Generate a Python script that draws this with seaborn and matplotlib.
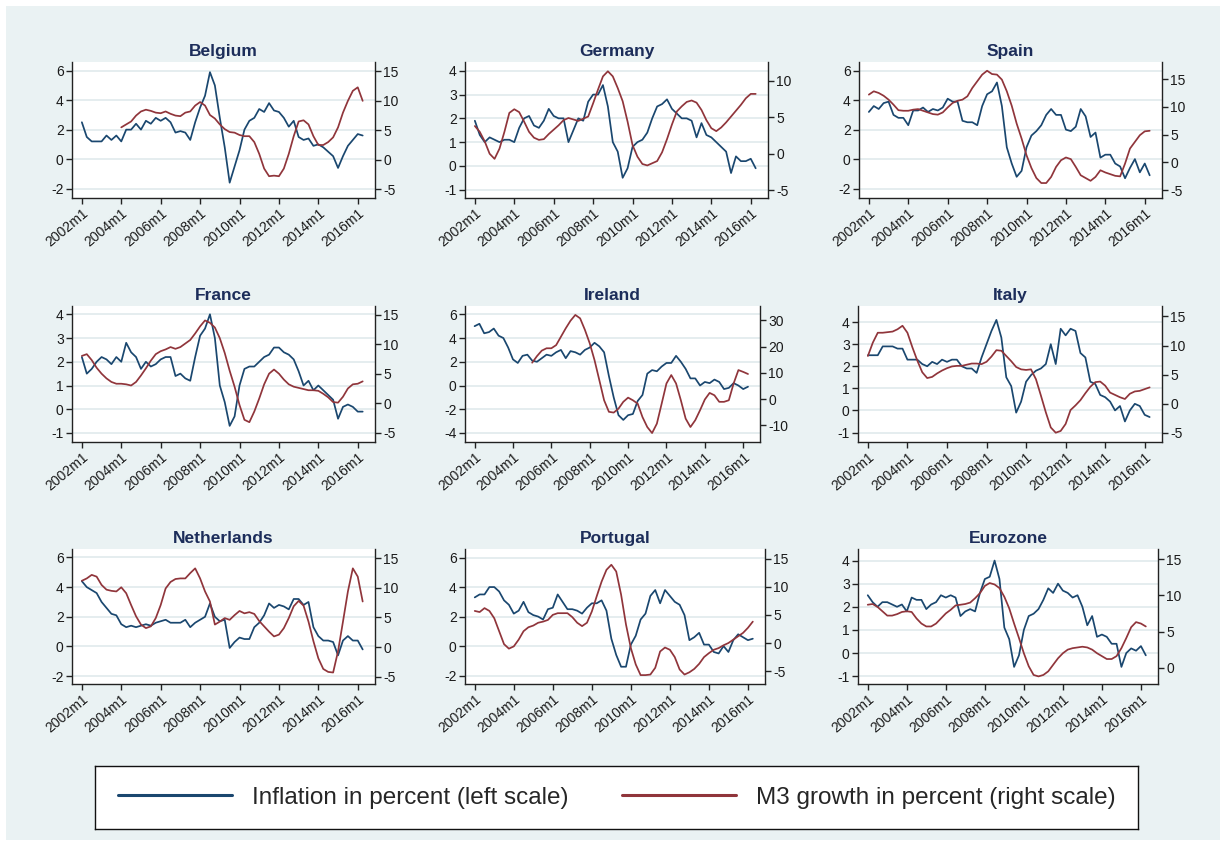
import numpy as np
import pandas as pd
import matplotlib
matplotlib.use("Agg")
import matplotlib.pyplot as plt
import seaborn as sns
from matplotlib.patches import Rectangle
from matplotlib.lines import Line2D

sns.set_style("white")
plt.rcParams["font.family"] = ["Liberation Sans", "DejaVu Sans"]
plt.rcParams["axes.unicode_minus"] = False

nan = np.nan

# Quarterly observations, 2002m1 .. 2016m4
quarters = pd.period_range("2002Q1", "2016Q2", freq="Q")
month_idx = (quarters.year - 2002) * 12 + (quarters.quarter - 1) * 3

tick_labels = ["2002m1", "2004m1", "2006m1", "2008m1",
               "2010m1", "2012m1", "2014m1", "2016m1"]

# ---- Inflation (percent, left scale) and M3 growth (percent, right scale) ----
belgium_infl = [2.5, 1.5, 1.2, 1.2,  1.2, 1.6, 1.3, 1.6,  1.2, 2.0, 2.0, 2.4,
                2.0, 2.6, 2.4, 2.8,  2.6, 2.8, 2.5, 1.8,  1.9, 1.8, 1.3, 2.5,
                3.5, 4.3, 5.9, 5.0,  2.8, 0.8, -1.6, -0.5,  0.6, 2.0, 2.6, 2.8,
                3.4, 3.2, 3.8, 3.3,  3.2, 2.8, 2.2, 2.6,  1.5, 1.3, 1.4, 0.9,
                1.0, 0.8, 0.5, 0.2,  -0.6, 0.2, 0.9, 1.3,  1.7, 1.6]
belgium_m3 = [nan, nan, nan, nan,  nan, nan, nan, nan,  5.5, 6.0, 6.5, 7.5,
              8.2, 8.5, 8.3, 8.0,  7.9, 8.2, 7.8, 7.5,  7.4, 8.0, 8.2, 9.2,
              9.8, 9.2, 7.6, 7.0,  6.0, 5.2, 4.7, 4.6,  4.2, 4.0, 4.0, 3.0,
              1.0, -1.5, -2.8, -2.7,  -2.8, -1.5, 1.0, 4.0,  6.5, 6.7, 6.0, 4.0,
              2.5, 2.5, 3.0, 3.8,  5.5, 8.0, 10.0, 11.7,  12.3, 10.0]

germany_infl = [1.9, 1.3, 1.0, 1.2,  1.1, 1.0, 1.1, 1.1,  1.0, 1.6, 2.0, 2.1,
                1.7, 1.6, 1.9, 2.4,  2.1, 2.0, 2.0, 1.0,  1.5, 2.0, 1.9, 2.7,
                3.0, 3.0, 3.4, 2.5,  1.0, 0.6, -0.5, -0.1,  0.8, 1.0, 1.1, 1.4,
                2.0, 2.5, 2.6, 2.8,  2.4, 2.2, 2.0, 2.0,  1.9, 1.2, 1.8, 1.3,
                1.2, 1.0, 0.8, 0.6,  -0.3, 0.4, 0.2, 0.2,  0.3, -0.1]
germany_m3 = [3.8, 3.0, 1.7, 0.0,  -0.7, 0.7, 3.0, 5.6,  6.1, 5.7, 4.4, 3.0,
              2.2, 1.9, 2.0, 2.7,  3.3, 3.9, 4.6, 4.9,  4.7, 4.5, 4.8, 5.1,
              6.9, 8.8, 10.6, 11.3,  10.6, 9.0, 7.2, 4.4,  1.2, -0.4, -1.4, -1.6,
              -1.3, -1.0, 0.2, 2.0,  4.0, 5.8, 6.5, 7.1,  7.3, 7.0, 6.0, 4.6,
              3.5, 3.1, 3.6, 4.3,  5.1, 5.9, 6.7, 7.6,  8.2, 8.2]

spain_infl = [3.2, 3.6, 3.4, 3.8,  3.9, 3.0, 2.8, 2.8,  2.3, 3.3, 3.3, 3.5,
              3.2, 3.4, 3.3, 3.5,  4.1, 3.9, 3.9, 2.6,  2.5, 2.5, 2.3, 3.6,
              4.4, 4.6, 5.2, 3.6,  0.8, -0.3, -1.2, -0.8,  0.8, 1.6, 1.9, 2.3,
              3.0, 3.4, 3.0, 3.0,  2.0, 1.9, 2.2, 3.4,  2.9, 1.5, 1.8, 0.1,
              0.3, 0.3, -0.3, -0.5,  -1.3, -0.6, 0.0, -0.9,  -0.3, -1.1]
spain_m3 = [12.2, 12.8, 12.5, 12.0,  11.3, 10.4, 9.4, 9.3,  9.3, 9.5, 9.6, 9.3,
            9.0, 8.7, 8.6, 9.0,  9.9, 10.7, 11.1, 11.3,  11.9, 13.4, 14.6, 15.8,
            16.5, 15.9, 15.8, 14.9,  12.8, 10.2, 7.0, 4.3,  1.3, -1.0, -2.8, -3.7,
            -3.7, -2.6, -0.8, 0.4,  0.9, 0.6, -0.8, -2.3,  -2.8, -3.3, -2.6, -1.4,
            -1.8, -2.1, -2.4, -2.5,  -0.2, 2.5, 3.7, 4.9,  5.6, 5.7]

france_infl = [2.2, 1.5, 1.7, 2.0,  2.2, 2.1, 1.9, 2.2,  2.0, 2.8, 2.4, 2.2,
               1.7, 2.0, 1.8, 1.9,  2.1, 2.2, 2.2, 1.4,  1.5, 1.3, 1.2, 2.2,
               3.1, 3.4, 4.0, 3.0,  1.0, 0.3, -0.7, -0.3,  1.0, 1.7, 1.8, 1.8,
               2.0, 2.2, 2.3, 2.6,  2.6, 2.4, 2.3, 2.1,  1.6, 1.0, 1.2, 0.8,
               1.0, 0.8, 0.6, 0.4,  -0.4, 0.1, 0.2, 0.1,  -0.1, -0.1]
france_m3 = [8.0, 8.3, 7.3, 6.0,  5.0, 4.2, 3.6, 3.3,  3.3, 3.2, 3.0, 3.6,
             4.7, 5.9, 7.2, 8.3,  8.8, 9.1, 9.5, 9.2,  9.5, 10.1, 10.7, 11.8,
             13.0, 14.0, 13.6, 12.8,  11.0, 8.5, 5.5, 2.8,  -0.3, -2.8, -3.2, -1.4,
             0.8, 3.2, 5.0, 5.7,  5.0, 4.0, 3.2, 2.8,  2.6, 2.4, 2.2, 2.2,
             2.1, 1.6, 1.0, 0.2,  0.1, 1.1, 2.5, 3.2,  3.3, 3.7]

ireland_infl = [5.0, 5.2, 4.4, 4.5,  4.8, 4.2, 4.0, 3.2,  2.2, 1.9, 2.5, 2.6,
                2.1, 2.0, 2.3, 2.6,  2.5, 2.8, 3.0, 2.3,  2.9, 2.8, 2.6, 3.0,
                3.2, 3.6, 3.3, 2.8,  0.8, -1.0, -2.5, -2.9,  -2.5, -2.4, -1.3, -0.8,
                1.0, 1.3, 1.2, 1.6,  1.9, 1.9, 2.5, 2.0,  1.4, 0.6, 0.6, 0.0,
                0.3, 0.2, 0.5, 0.3,  -0.3, -0.2, 0.2, 0.0,  -0.3, -0.1]
ireland_m3 = [nan, nan, nan, nan,  nan, nan, nan, nan,  nan, nan, nan, nan,
              13.9, 16.4, 18.5, 19.4,  19.4, 20.6, 23.8, 27.0,  29.9, 32.1, 30.8, 26.4,
              21.3, 14.9, 7.3, -0.4,  -4.8, -5.1, -3.6, -1.0,  0.6, -0.4, -1.7, -6.8,
              -10.6, -12.9, -9.3, -1.7,  6.0, 9.2, 6.0, -0.4,  -7.4, -10.6, -8.0, -4.2,
              -0.1, 2.4, 1.5, -1.0,  -1.0, -0.4, 6.0, 11.1,  10.4, 9.6]

italy_infl = [2.5, 2.5, 2.5, 2.9,  2.9, 2.9, 2.8, 2.8,  2.3, 2.3, 2.3, 2.1,
              2.0, 2.2, 2.1, 2.3,  2.2, 2.3, 2.3, 2.0,  1.9, 1.9, 1.7, 2.4,
              3.0, 3.6, 4.1, 3.3,  1.5, 1.1, -0.1, 0.4,  1.3, 1.6, 1.8, 1.9,
              2.1, 3.0, 2.1, 3.7,  3.4, 3.7, 3.6, 2.6,  2.4, 1.3, 1.2, 0.7,
              0.6, 0.4, 0.0, 0.2,  -0.5, 0.0, 0.3, 0.2,  -0.2, -0.3]
italy_m3 = [8.2, 10.5, 12.2, 12.2,  12.3, 12.4, 12.8, 13.4,  12.2, 9.7, 7.4, 5.4,
            4.4, 4.6, 5.2, 5.7,  6.1, 6.4, 6.5, 6.5,  6.7, 6.9, 6.9, 6.8,
            7.2, 8.1, 9.2, 9.1,  8.2, 7.3, 6.3, 5.9,  5.8, 5.9, 4.2, 1.4,
            -1.5, -4.1, -5.0, -4.7,  -3.5, -1.1, -0.3, 0.6,  1.8, 2.9, 3.7, 3.8,
            3.1, 1.9, 1.5, 1.1,  0.8, 1.7, 2.1, 2.2,  2.5, 2.8]

netherlands_infl = [4.4, 4.0, 3.8, 3.6,  3.0, 2.6, 2.2, 2.1,  1.5, 1.3, 1.4, 1.3,
                    1.4, 1.5, 1.4, 1.6,  1.7, 1.8, 1.6, 1.6,  1.6, 1.8, 1.3, 1.6,
                    1.8, 2.0, 2.9, 2.0,  1.7, 1.8, -0.1, 0.3,  0.6, 0.5, 0.5, 1.3,
                    1.6, 2.1, 2.9, 2.6,  2.8, 2.7, 2.5, 3.2,  3.2, 2.8, 3.0, 1.3,
                    0.7, 0.4, 0.4, 0.3,  -0.6, 0.4, 0.7, 0.4,  0.4, -0.2]
netherlands_m3 = [11.2, 11.6, 12.2, 11.9,  10.5, 9.7, 9.5, 9.4,  10.1, 9.1, 7.1, 5.2,
                  3.8, 3.2, 3.5, 4.9,  7.1, 9.9, 11.0, 11.5,  11.6, 11.6, 12.5, 13.3,
                  11.6, 9.4, 7.7, 3.8,  4.3, 4.9, 4.6, 5.4,  6.1, 5.7, 5.9, 5.6,
                  4.4, 3.5, 2.6, 1.8,  2.1, 3.2, 4.9, 6.9,  7.8, 7.0, 4.3, 1.0,
                  -1.9, -3.7, -4.2, -4.3,  -0.7, 4.3, 9.4, 13.3,  11.9, 7.7]

portugal_infl = [3.3, 3.5, 3.5, 4.0,  4.0, 3.7, 3.1, 2.8,  2.2, 2.4, 3.0, 2.3,
                 2.1, 2.0, 1.8, 2.5,  2.6, 3.5, 3.0, 2.5,  2.5, 2.4, 2.2, 2.6,
                 2.9, 2.9, 3.1, 2.4,  0.5, -0.6, -1.4, -1.4,  0.1, 0.7, 1.8, 2.2,
                 3.4, 3.8, 2.9, 3.8,  3.4, 3.0, 2.8, 2.1,  0.4, 0.6, 0.9, 0.1,
                 0.1, -0.4, -0.5, 0.0,  -0.4, 0.4, 0.8, 0.6,  0.4, 0.5]
portugal_m3 = [5.7, 5.5, 6.2, 5.7,  4.4, 2.1, -0.2, -1.0,  -0.6, 0.6, 2.1, 2.8,
               3.1, 3.6, 3.8, 4.1,  5.0, 5.3, 5.3, 5.3,  4.6, 3.6, 3.0, 3.6,
               5.6, 8.3, 10.9, 13.0,  13.9, 12.7, 8.6, 3.3,  -0.9, -3.8, -5.7, -5.7,
               -5.6, -4.4, -1.5, -0.8,  -1.2, -2.5, -4.7, -5.6,  -5.2, -4.6, -3.7, -2.5,
               -1.8, -1.2, -0.9, -0.4,  0.0, 0.6, 1.2, 1.8,  2.7, 3.8]

eurozone_infl = [2.5, 2.2, 2.0, 2.2,  2.2, 2.1, 2.0, 2.1,  1.8, 2.4, 2.3, 2.3,
                 1.9, 2.1, 2.2, 2.5,  2.4, 2.5, 2.4, 1.6,  1.8, 1.9, 1.8, 2.6,
                 3.2, 3.3, 4.0, 3.2,  1.1, 0.6, -0.6, -0.1,  1.0, 1.6, 1.7, 1.9,
                 2.3, 2.8, 2.6, 3.0,  2.7, 2.6, 2.4, 2.5,  2.0, 1.2, 1.6, 0.7,
                 0.8, 0.7, 0.4, 0.4,  -0.6, 0.0, 0.2, 0.1,  0.3, -0.1]
eurozone_m3 = [8.7, 8.8, 8.4, 7.8,  7.2, 7.2, 7.4, 7.7,  7.8, 7.7, 6.8, 6.1,
               5.7, 5.7, 6.1, 6.8,  7.5, 8.0, 8.6, 8.7,  8.8, 9.0, 9.6, 10.3,
               11.3, 11.7, 11.5, 11.0,  9.8, 8.2, 6.1, 4.1,  2.0, 0.2, -1.0, -1.2,
               -1.0, -0.5, 0.4, 1.3,  2.0, 2.5, 2.7, 2.8,  2.9, 2.8, 2.5, 2.0,
               1.6, 1.2, 1.2, 1.6,  2.7, 4.1, 5.6, 6.3,  6.1, 5.7]

NAVY = "#1A476F"
MAROON = "#90353B"
BG = "#EAF2F3"
TITLE_C = "#1C2D5A"

W, H = 1226, 846

# name, inflation, m3, left limits/ticks, right limits/ticks, pixel box (l, t, r, b)
panels = [
    ("Belgium", belgium_infl, belgium_m3, (-2.64, 6.59), [-2, 0, 2, 4, 6],
     (-6.5, 16.6), [-5, 0, 5, 10, 15], (72, 62, 375, 198)),
    ("Germany", germany_infl, germany_m3, (-1.35, 4.37), [-1, 0, 1, 2, 3, 4],
     (-6.06, 12.57), [-5, 0, 5, 10], (465, 62, 768, 198)),
    ("Spain", spain_infl, spain_m3, (-2.64, 6.59), [-2, 0, 2, 4, 6],
     (-6.39, 18.07), [-5, 0, 5, 10, 15], (859, 62, 1162, 198)),
    ("France", france_infl, france_m3, (-1.38, 4.35), [-1, 0, 1, 2, 3, 4],
     (-6.55, 16.44), [-5, 0, 5, 10, 15], (72, 306, 375, 442)),
    ("Ireland", ireland_infl, ireland_m3, (-4.76, 6.70), [-4, -2, 0, 2, 4, 6],
     (-16.3, 35.5), [-10, 0, 10, 20, 30], (465, 306, 760, 442)),
    ("Italy", italy_infl, italy_m3, (-1.43, 4.73), [-1, 0, 1, 2, 3, 4],
     (-6.6, 16.8), [-5, 0, 5, 10, 15], (858, 306, 1162, 442)),
    ("Netherlands", netherlands_infl, netherlands_m3, (-2.53, 6.57), [-2, 0, 2, 4, 6],
     (-6.24, 16.57), [-5, 0, 5, 10, 15], (72, 549, 375, 684)),
    ("Portugal", portugal_infl, portugal_m3, (-2.57, 6.58), [-2, 0, 2, 4, 6],
     (-7.28, 16.7), [-5, 0, 5, 10, 15], (465, 549, 765, 684)),
    ("Eurozone", eurozone_infl, eurozone_m3, (-1.34, 4.5), [-1, 0, 1, 2, 3, 4],
     (-2.25, 16.4), [0, 5, 10, 15], (858, 549, 1158, 684)),
]

fig = plt.figure(figsize=(W / 100, H / 100), dpi=100, facecolor="white")
fig.patches.append(Rectangle((6 / W, 6 / H), (W - 12) / W, (H - 12) / H,
                             transform=fig.transFigure, facecolor=BG,
                             edgecolor="none", zorder=-1))


def box(l, t, r, b):
    return [l / W, 1 - b / H, (r - l) / W, (b - t) / H]


SPINE_C = "#222222"
TICK_FS = 10
for name, infl, m3, ylim_l, yt_l, ylim_r, yt_r, px in panels:
    ax = fig.add_axes(box(*px))
    ax.set_facecolor("white")
    ax2 = ax.twinx()
    df = pd.DataFrame({"month": month_idx, "infl": infl, "m3": m3})
    sns.lineplot(data=df, x="month", y="infl", ax=ax, color=NAVY, linewidth=1.25)
    sns.lineplot(data=df.dropna(), x="month", y="m3", ax=ax2, color=MAROON, linewidth=1.25)

    ax.set_xlim(-6, 178.5)
    ax.set_ylim(*ylim_l)
    ax2.set_ylim(*ylim_r)
    ax.set_yticks(yt_l)
    ax2.set_yticks(yt_r)
    ax.set_xticks(np.arange(0, 169, 24))
    ax.set_xticklabels(tick_labels, rotation=40, ha="right", rotation_mode="anchor")
    ax.set_xlabel("")
    ax.set_ylabel("")
    ax2.set_ylabel("")

    ax.yaxis.grid(True, color="#E3ECEE", linewidth=1.3)
    ax.xaxis.grid(False)
    ax.set_axisbelow(True)

    ax.spines["top"].set_visible(False)
    ax.spines["right"].set_visible(False)
    for s in ("top", "left", "bottom"):
        ax2.spines[s].set_visible(False)
    for sp in (ax.spines["left"], ax.spines["bottom"], ax2.spines["right"]):
        sp.set_color(SPINE_C)
        sp.set_linewidth(1.0)

    ax.tick_params(axis="both", direction="out", length=4, width=1.0,
                   color=SPINE_C, labelsize=TICK_FS, labelcolor="#1a1a1a", pad=2)
    ax.tick_params(axis="x", bottom=True)
    ax.tick_params(axis="y", left=True)
    ax2.tick_params(axis="y", direction="out", length=4, width=1.0, right=True,
                    color=SPINE_C, labelsize=TICK_FS, labelcolor="#1a1a1a", pad=2)

    ax.set_title(name, fontsize=12.5, fontweight="bold", color=TITLE_C, pad=4)

# legend box
lax = fig.add_axes(box(95, 766, 1138, 829))
lax.set_facecolor("white")
lax.set_xticks([])
lax.set_yticks([])
for sp in lax.spines.values():
    sp.set_visible(True)
    sp.set_color("#111111")
    sp.set_linewidth(1.0)
handles = [Line2D([], [], color=NAVY, linewidth=2.2),
           Line2D([], [], color=MAROON, linewidth=2.2)]
labels = ["Inflation in percent (left scale)", "M3 growth in percent (right scale)"]
lax.legend(handles, labels, loc="center", ncol=2, frameon=False,
           prop={"family": ["Liberation Sans", "DejaVu Sans"], "size": 17.5},
           handlelength=4.7, handletextpad=0.82, columnspacing=2.2)

fig.savefig("out.png", dpi=100, facecolor=fig.get_facecolor())
